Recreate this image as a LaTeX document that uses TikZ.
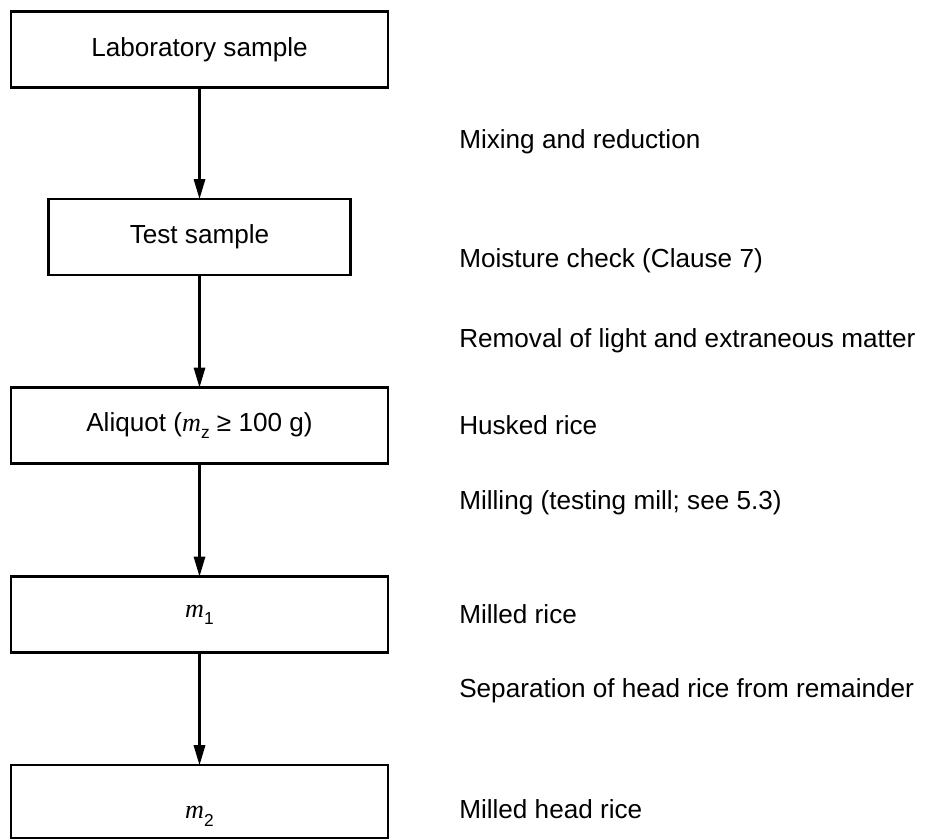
\documentclass[tikz,border=0pt]{standalone}
\usepackage{fontspec}
\setmainfont{Liberation Sans}
\newfontfamily\serifrm{Liberation Serif}
\usetikzlibrary{arrows.meta}

% mass symbol with a subscript
\newcommand{\massof}[1]{{\serifrm\itshape m}\raisebox{-5.5pt}{\fontsize{13}{13}\selectfont #1}}

\tikzset{
    stage/.style={draw, line width=1.9pt, minimum width=283pt, minimum height=57pt,
        inner sep=0pt, outer sep=0pt, font=\fontsize{19.6}{24}\selectfont},
    note/.style={anchor=base west, inner sep=0pt, font=\fontsize{19.6}{24}\selectfont},
    flow/.style={-{Triangle[length=15pt,width=8.5pt]}, line width=1.6pt},
}

\begin{document}
\begin{tikzpicture}[x=0.75pt,y=-0.75pt]
    \useasboundingbox (0,0) rectangle (930,839);

    % Stages
    \node[stage] (lab) at (199.5,49.5) {Laboratory sample};
    \node[stage, minimum width=226.5pt] (test) at (199.5,237) {Test sample};
    \node[stage] (aliquot) at (199.5,425.5) {Aliquot (\massof{z} ≥ 100 g)};
    \node[stage] (first) at (199.5,614.5) {\massof{1}};
    \node[stage, minimum height=54.5pt, text height=26pt, text depth=0pt] (second) at (199.5,801.5) {\massof{2}};

    % Flow
    \draw[flow] (lab) -- (test);
    \draw[flow] (test) -- (aliquot);
    \draw[flow] (aliquot) -- (first);
    \draw[flow] (first) -- (second);

    % Notes
    \node[note] (mix) at (459,148) {Mixing and reduction};
    \node[note] (moist) at (459,267) {Moisture check (Clause 7)};
    \node[note] (removal) at (459,347) {Removal of light and extraneous matter};
    \node[note] (husked) at (459,434) {Husked rice};
    \node[note] (milling) at (459,509) {Milling (testing mill; see 5.3)};
    \node[note] (milled) at (459,623) {Milled rice};
    \node[note] (separation) at (459,697) {Separation of head rice from remainder};
    \node[note] (head) at (459,818) {Milled head rice};

\end{tikzpicture}
\end{document}
